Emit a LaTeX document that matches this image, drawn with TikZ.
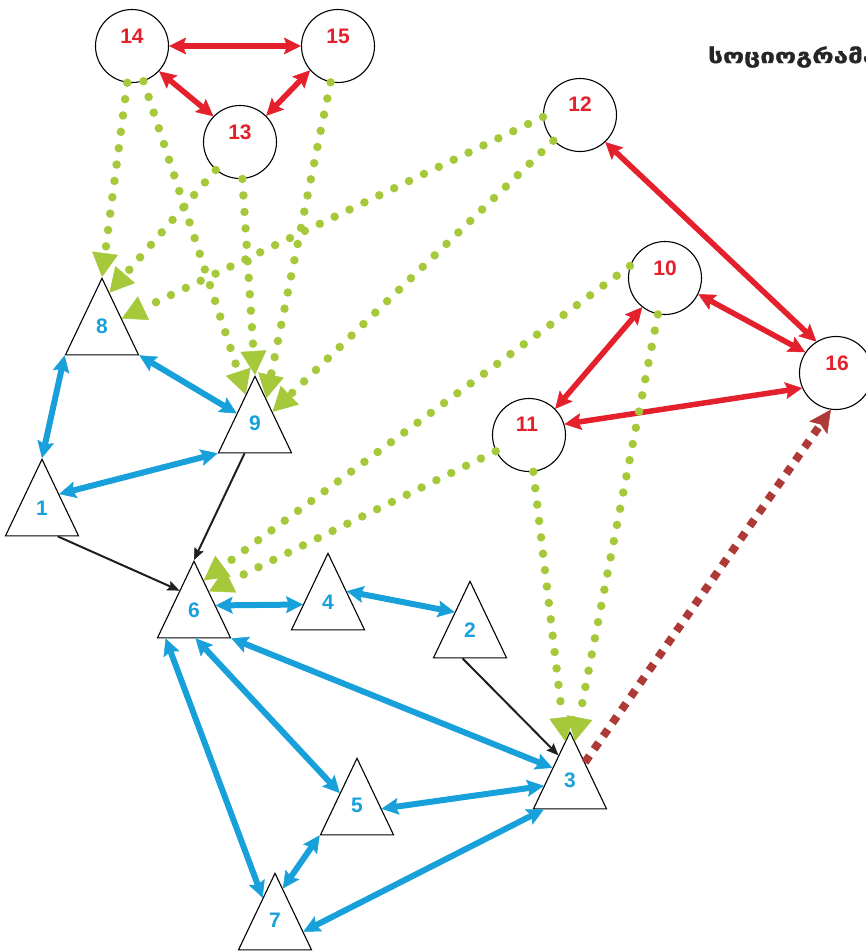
\documentclass[tikz,border=0pt]{standalone}
\usepackage{fontspec}
\setmainfont{Liberation Sans}
\newfontfamily\geofont[FakeStretch=1.3,FakeBold=1.5]{DejaVu Sans}
\usetikzlibrary{shapes.geometric,arrows.meta,calc}
\definecolor{cred}{HTML}{E3202B}
\definecolor{cblue}{HTML}{18A0DA}
\definecolor{cgreen}{HTML}{A6C93C}
\definecolor{cdark}{HTML}{AD3A37}
\begin{document}
\begin{tikzpicture}[x=1pt,y=-1pt,
  circ/.style={circle,draw=black,line width=1.1pt,minimum size=73pt,inner sep=0pt},
  tri/.style={isosceles triangle,isosceles triangle apex angle=51,shape border rotate=90,
    draw=black,line width=1.1pt,minimum width=73pt,minimum height=73pt,inner sep=0pt,anchor=apex},
  rlab/.style={font=\fontsize{21}{21}\selectfont\bfseries,text=cred,inner sep=0pt},
  blab/.style={font=\fontsize{21}{21}\selectfont\bfseries,text=cblue,inner sep=0pt},
  redarr/.style={draw=cred,line width=5.5pt,
    {Stealth[length=17pt,width=17pt,inset=3pt,line width=0.5pt]}-{Stealth[length=17pt,width=17pt,inset=3pt,line width=0.5pt]}},
  bluearr/.style={draw=cblue,line width=6pt,
    {Stealth[length=17pt,width=17pt,inset=3pt,line width=0.5pt]}-{Stealth[length=17pt,width=17pt,inset=3pt,line width=0.5pt]}},
  blackarr/.style={draw=black!88,line width=2pt,-{Stealth[length=12pt,width=10pt,inset=2pt,line width=0.5pt]}},
  greenarr/.style={draw=cgreen,line width=8.5pt,line cap=round,dash pattern=on 0pt off 16.5pt,
    -{Triangle[length=24pt,width=26pt,line width=0.5pt]}},
  darkarr/.style={draw=cdark,line width=8pt,dash pattern=on 8pt off 8pt,
    -{Stealth[length=22pt,width=22pt,inset=4pt,line width=0.5pt]}}
]
\useasboundingbox (0,0) rectangle (866,951);

% title
\node[anchor=base west,inner sep=0pt,font=\geofont\bfseries\fontsize{20}{20}\selectfont,text=black!85] (title) at (708,63) {სოციოგრამა};

% circles
\node[circ] (c14) at (132,46) {};
\node[circ] (c15) at (338,46) {};
\node[circ] (c13) at (240,142) {};
\node[circ] (c12) at (580,115) {};
\node[circ] (c10) at (665,278) {};
\node[circ] (c16) at (836,373) {};
\node[circ] (c11) at (529,435) {};

% triangles (positioned by apex)
\node[tri] (t8) at (102,277) {};
\node[tri] (t9) at (255,375) {};
\node[tri] (t1) at (42,458) {};
\node[tri] (t6) at (194,560) {};
\node[tri] (t4) at (328,552) {};
\node[tri] (t2) at (470,580) {};
\node[tri] (t3) at (570,731) {};
\node[tri] (t5) at (357,757) {};
\node[tri] (t7) at (275,872) {};

% black arrows
\draw[blackarr] ($(t1.left corner)!0.71!(t1.right corner)$) -- ($(t6.apex)!0.39!(t6.left corner)$);
\draw[blackarr] ($(t9.left corner)!0.36!(t9.right corner)$) -- (t6.apex);
\draw[blackarr] ($(t2.left corner)!0.4!(t2.right corner)$) -- ($(t3.apex)!0.31!(t3.left corner)$);

% blue arrows
\draw[bluearr] (t8.left corner) -- (t1.apex);
\draw[bluearr] (t8.right corner) -- ($(t9.apex)!0.49!(t9.left corner)$);
\draw[bluearr] ($(t1.apex)!0.46!(t1.right corner)$) -- (t9.left corner);
\draw[bluearr] ($(t6.apex)!0.58!(t6.right corner)$) -- ($(t4.apex)!0.67!(t4.left corner)$);
\draw[bluearr] ($(t4.apex)!0.5!(t4.right corner)$) -- ($(t2.apex)!0.41!(t2.left corner)$);
\draw[bluearr] (t6.right corner) -- ($(t3.apex)!0.47!(t3.left corner)$);
\draw[bluearr] ($(t6.left corner)!0.52!(t6.right corner)$) -- ($(t5.apex)!0.46!(t5.left corner)$);
\draw[bluearr] ($(t6.left corner)!0.12!(t6.right corner)$) -- ($(t7.apex)!0.33!(t7.left corner)$);
\draw[bluearr] ($(t5.apex)!0.66!(t5.right corner)$) -- ($(t3.apex)!0.7!(t3.left corner)$);
\draw[bluearr] (t5.left corner) -- ($(t7.apex)!0.21!(t7.right corner)$);
\draw[bluearr] ($(t7.apex)!0.76!(t7.right corner)$) -- ($(t3.left corner)!0.15!(t3.right corner)$);

% red arrows
\draw[redarr] (c14) -- (c15);
\draw[redarr] (c14.317) -- (c13.136);
\draw[redarr] (c15.221) -- (c13.45);
\draw[redarr] (c12.313) -- (c16.122);
\draw[redarr] (c10.334) -- (c16.146);
\draw[redarr] (c10.232) -- (c11.45);
\draw[redarr] (c11.17) -- (c16.204);

% dark red dashed
\draw[darkarr] ($(t3.apex)!0.4!(t3.right corner)$) -- (c16.262);

% green dotted arrows
\draw[greenarr] (c14) -- (t8.apex);
\draw[greenarr] (c14) -- ($(t9.apex)!0.25!(t9.left corner)$);
\draw[greenarr] (c13) -- ($(t8.apex)!0.2!(t8.right corner)$);
\draw[greenarr] (c13) -- (t9.apex);
\draw[greenarr] (c15) -- ($(t9.apex)!0.3!(t9.right corner)$);
\draw[greenarr] (c12.183) -- ($(t8.apex)!0.53!(t8.right corner)$);
\draw[greenarr] (c12) -- ($(t9.apex)!0.47!(t9.right corner)$);
\draw[greenarr] (c10.161) -- ($(t6.apex)!0.26!(t6.right corner)$);
\draw[greenarr] (c11) -- ($(t6.apex)!0.4!(t6.right corner)$);
\draw[greenarr] (c11) -- ($(t3.apex)!0.13!(t3.left corner)$);
\draw[greenarr] (c10) -- ($(t3.apex)!0.13!(t3.right corner)$);

% labels
\node[rlab] (l14) at ($(c14)+(0,-10)$) {14};
\node[rlab] (l15) at ($(c15)+(0,-10)$) {15};
\node[rlab] (l13) at ($(c13)+(0,-10)$) {13};
\node[rlab] (l12) at ($(c12)+(0,-11)$) {12};
\node[rlab] (l10) at ($(c10)+(0,-10)$) {10};
\node[rlab] (l16) at ($(c16)+(1,-10)$) {16};
\node[rlab] (l11) at ($(c11)+(-2,-11)$) {11};
\node[blab] (l8) at ($(t8.apex)+(0,49)$) {8};
\node[blab] (l9) at ($(t9.apex)+(0,48)$) {9};
\node[blab] (l1) at ($(t1.apex)+(0,50)$) {1};
\node[blab] (l6) at ($(t6.apex)+(0,50)$) {6};
\node[blab] (l4) at ($(t4.apex)+(0,50)$) {4};
\node[blab] (l2) at ($(t2.apex)+(0,50)$) {2};
\node[blab] (l3) at ($(t3.apex)+(0,49)$) {3};
\node[blab] (l5) at ($(t5.apex)+(0,48)$) {5};
\node[blab] (l7) at ($(t7.apex)+(0,48)$) {7};
\end{tikzpicture}
\end{document}
